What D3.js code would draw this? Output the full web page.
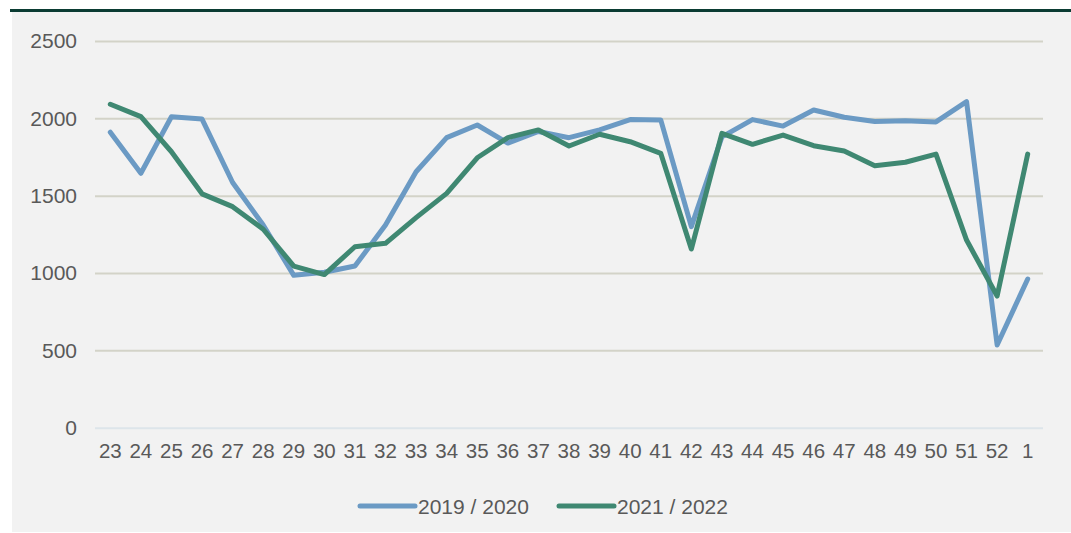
<!DOCTYPE html>
<html>
<head>
<meta charset="utf-8">
<script src="https://cdn.jsdelivr.net/npm/d3@7"></script>
<style>
  html, body { margin: 0; padding: 0; background: #fff; }
  svg { display: block; font-family: "Liberation Sans", Arial, sans-serif; }
</style>
</head>
<body>
<svg id="chart" width="1071" height="533"></svg>
<script>
// week numbers along the x axis
const weeks = ["23","24","25","26","27","28","29","30","31","32","33","34","35","36","37","38","39","40","41","42","43","44","45","46","47","48","49","50","51","52","1"];

// series values
const season1920 = [1910,1645,2010,1995,1585,1310,985,1005,1045,1310,1655,1875,1957,1840,1915,1875,1925,1992,1990,1300,1880,1992,1950,2054,2007,1980,1985,1977,2108,535,961];
const season2122 = [2091,2011,1784,1512,1429,1283,1045,990,1170,1192,1358,1515,1745,1875,1925,1821,1897,1849,1774,1155,1903,1832,1892,1823,1789,1694,1716,1769,1213,851,1769];

const yTicks = [0, 500, 1000, 1500, 2000, 2500];

const seriesNames = ["2019 / 2020", "2021 / 2022"];
const seriesColors = ["#6b9ac4", "#3f8872"];

const svg = d3.select("#chart");

// panel background + top rule
svg.append("rect").attr("x", 12).attr("y", 11).attr("width", 1059).attr("height", 521).attr("fill", "#f2f2f2");
svg.append("rect").attr("x", 10).attr("y", 9).attr("width", 1061).attr("height", 3).attr("fill", "#0b3c33");

const margin = { left: 95, right: 1043, top: 41, bottom: 427.7 };

const x = d3.scaleBand().domain(weeks).range([margin.left, margin.right]);
const y = d3.scaleLinear().domain([0, 2500]).range([margin.bottom, margin.top]);

// y axis with gridlines
const yAxis = svg.append("g")
    .attr("transform", `translate(${margin.left},0)`)
    .call(d3.axisLeft(y).tickValues(yTicks).tickFormat(d3.format("d"))
        .tickSize(-(margin.right - margin.left)).tickPadding(18));
yAxis.select(".domain").remove();
yAxis.selectAll(".tick line")
    .attr("stroke", d => d === 0 ? "#dde5ea" : "#d3d3c8")
    .attr("stroke-width", 2);
yAxis.selectAll(".tick text")
    .attr("fill", "#595959")
    .style("font-size", "21px");

// x axis labels
const xAxis = svg.append("g")
    .attr("transform", `translate(0,${margin.bottom})`)
    .call(d3.axisBottom(x).tickSize(0).tickPadding(16));
xAxis.select(".domain").remove();
xAxis.selectAll(".tick text")
    .attr("fill", "#595959")
    .style("font-size", "20.5px");

// lines
const line = d3.line()
    .x((d, i) => x(weeks[i]) + x.bandwidth() / 2)
    .y(d => y(d));

[season1920, season2122].forEach((vals, k) => {
    svg.append("path")
        .datum(vals)
        .attr("d", line)
        .attr("fill", "none")
        .attr("stroke", seriesColors[k])
        .attr("stroke-width", 5)
        .attr("stroke-linejoin", "round")
        .attr("stroke-linecap", "round");
});

// legend
const legendX = [360, 559];
seriesNames.forEach((name, k) => {
    const g = svg.append("g").attr("transform", `translate(${legendX[k]},506)`);
    g.append("line")
        .attr("x1", 0).attr("x2", 55)
        .attr("stroke", seriesColors[k])
        .attr("stroke-width", 5)
        .attr("stroke-linecap", "round");
    g.append("text")
        .attr("x", 58).attr("y", 7.5)
        .attr("fill", "#595959")
        .style("font-size", "21px")
        .text(name);
});
</script>
</body>
</html>
